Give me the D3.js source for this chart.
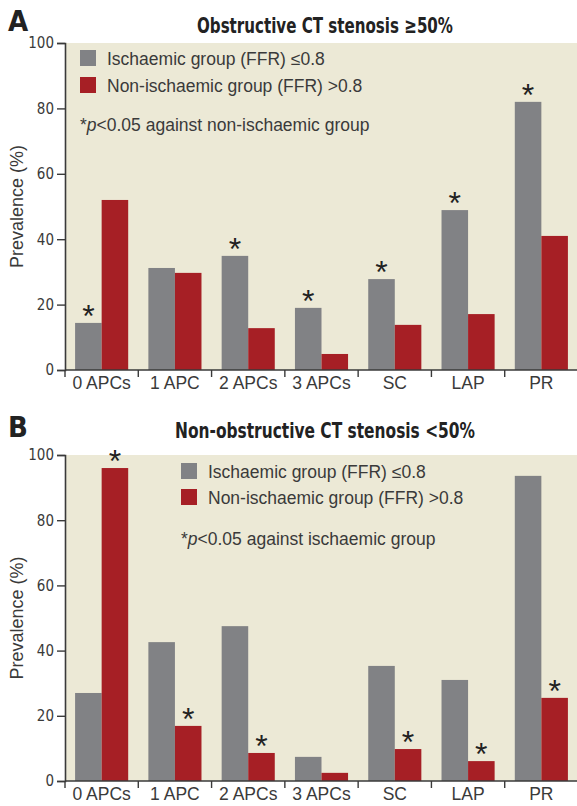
<!DOCTYPE html>
<html>
<head>
<meta charset="utf-8">
<script src="https://cdn.jsdelivr.net/npm/d3@7"></script>
<style>
  body { margin: 0; background: #fff; }
  svg { display: block; }
  .narrow { font-family: "Liberation Sans Narrow", "DejaVu Sans Condensed", sans-serif; }
  .reg { font-family: "Liberation Sans", Arial, sans-serif; }
</style>
</head>
<body>
<svg width="577" height="806"></svg>
<script>
// data
var categories = ["0 APCs", "1 APC", "2 APCs", "3 APCs", "SC", "LAP", "PR"];
var seriesNames = ["Ischaemic group (FFR) \u22640.8", "Non-ischaemic group (FFR) >0.8"];
var ischaemicA = [14.4, 31.2, 34.9, 19.0, 27.8, 48.9, 82.0];
var nonIschaemicA = [52.0, 29.7, 12.8, 4.9, 13.8, 17.1, 41.0];
var ischaemicB = [27.0, 42.6, 47.5, 7.4, 35.3, 31.0, 93.6];
var nonIschaemicB = [96.0, 16.9, 8.6, 2.5, 9.8, 6.1, 25.5];
// which bars carry the significance star
var starsA = [1, 0, 1, 1, 1, 1, 1];   // on ischaemic bars
var starsB = [1, 1, 1, 0, 1, 1, 1];   // on non-ischaemic bars
var yTicks = [0, 20, 40, 60, 80, 100];

var colors = { isch: "#818285", non: "#a61f25", bg: "#ece9d6", axis: "#3a3a3a", text: "#3a3a3a" };

var svg = d3.select("svg");

var x = d3.scaleBand().domain(categories).range([65, 578]).paddingInner(0).paddingOuter(0);
var x1 = d3.scaleBand().domain(["isch", "non"]).range([0, x.bandwidth()]).paddingInner(0).paddingOuter(0.38);

function drawPanel(p) {
    var y = d3.scaleLinear().domain([0, 100]).range([p.bottom, p.top]);
    var g = svg.append("g");

    g.append("rect")
        .attr("x", 65).attr("y", p.top)
        .attr("width", 577 - 65).attr("height", p.bottom - p.top)
        .attr("fill", colors.bg);

    // panel letter + title
    g.append("text").attr("class", "narrow")
        .attr("x", 8).attr("y", p.letterY)
        .attr("font-size", 29).attr("font-weight", "bold").attr("fill", "#222")
        .text(p.letter);
    g.append("text").attr("class", "narrow")
        .attr("x", 325).attr("y", p.titleY)
        .attr("text-anchor", "middle")
        .attr("font-size", 22).attr("font-weight", "bold").attr("fill", "#222")
        .attr("textLength", p.titleLen).attr("lengthAdjust", "spacingAndGlyphs")
        .text(p.title);

    // bars
    var rows = categories.map(function (c, i) {
        return { cat: c, isch: p.isch[i], non: p.non[i], star: p.stars[i] };
    });
    var grp = g.selectAll(".grp").data(rows).enter().append("g")
        .attr("transform", function (d) { return "translate(" + x(d.cat) + ",0)"; });
    ["isch", "non"].forEach(function (k) {
        grp.append("rect")
            .attr("x", x1(k))
            .attr("y", function (d) { return y(d[k]); })
            .attr("width", x1.bandwidth())
            .attr("height", function (d) { return p.bottom - y(d[k]); })
            .attr("fill", colors[k]);
    });
    grp.filter(function (d) { return d.star; })
        .append("text").attr("class", "reg")
        .attr("x", x1(p.starOn) + x1.bandwidth() / 2)
        .attr("y", function (d) { return y(d[p.starOn]) + 4; })
        .attr("text-anchor", "middle")
        .attr("font-size", 32).attr("fill", "#222")
        .text("*");

    // y axis
    var ya = g.append("g")
        .attr("transform", "translate(65,0)")
        .call(d3.axisLeft(y).tickValues(yTicks).tickSize(8).tickPadding(3));
    ya.select(".domain").attr("stroke", colors.axis).attr("stroke-width", 1.6);
    ya.selectAll(".tick line").attr("stroke", colors.axis).attr("stroke-width", 1.4);
    ya.selectAll(".tick text").attr("class", "narrow")
        .attr("font-size", 15).attr("fill", colors.text);

    g.append("text").attr("class", "reg")
        .attr("transform", "translate(23," + (p.top + p.bottom) / 2 + ") rotate(-90)")
        .attr("text-anchor", "middle")
        .attr("font-size", 18).attr("fill", colors.text)
        .text("Prevalence (%)");

    // x axis: labels centred, ticks at band edges
    var xa = g.append("g")
        .attr("transform", "translate(0," + p.bottom + ")")
        .call(d3.axisBottom(x).tickSize(0).tickPadding(7));
    xa.select(".domain").remove();
    xa.selectAll(".tick text").attr("class", "reg")
        .attr("font-size", 17.5).attr("fill", colors.text);
    g.append("line")
        .attr("x1", 65).attr("x2", 577)
        .attr("y1", p.bottom).attr("y2", p.bottom)
        .attr("stroke", colors.axis).attr("stroke-width", 1.6);
    g.selectAll(".edge").data(categories).enter().append("line")
        .attr("x1", function (d) { return x(d); }).attr("x2", function (d) { return x(d); })
        .attr("y1", p.bottom).attr("y2", p.bottom + 7)
        .attr("stroke", colors.axis).attr("stroke-width", 1.4);

    // legend
    var lg = g.append("g").attr("transform", "translate(" + p.legendX + "," + p.legendY + ")");
    ["isch", "non"].forEach(function (k, i) {
        lg.append("rect").attr("x", 0).attr("y", i * p.legendGap)
            .attr("width", 16).attr("height", 16).attr("fill", colors[k]);
        lg.append("text").attr("class", "reg")
            .attr("x", 27).attr("y", i * p.legendGap + 15)
            .attr("font-size", 17.5).attr("fill", colors.text)
            .text(seriesNames[i]);
    });
    var note = lg.append("text").attr("class", "reg")
        .attr("x", 0).attr("y", p.noteDy)
        .attr("font-size", 17.5).attr("fill", colors.text);
    note.append("tspan").text("*");
    note.append("tspan").attr("font-style", "italic").text("p");
    note.append("tspan").text(p.note);
}

drawPanel({
    letter: "A", letterY: 31, title: "Obstructive CT stenosis \u226550%", titleY: 33, titleLen: 256,
    top: 43, bottom: 370, isch: ischaemicA, non: nonIschaemicA, stars: starsA, starOn: "isch",
    legendX: 80, legendY: 50, legendGap: 27, noteDy: 81,
    note: "<0.05 against non-ischaemic group"
});
drawPanel({
    letter: "B", letterY: 437, title: "Non-obstructive CT stenosis <50%", titleY: 438, titleLen: 300,
    top: 455, bottom: 781, isch: ischaemicB, non: nonIschaemicB, stars: starsB, starOn: "non",
    legendX: 181, legendY: 463, legendGap: 26, noteDy: 82,
    note: "<0.05 against ischaemic group"
});
</script>
</body>
</html>
